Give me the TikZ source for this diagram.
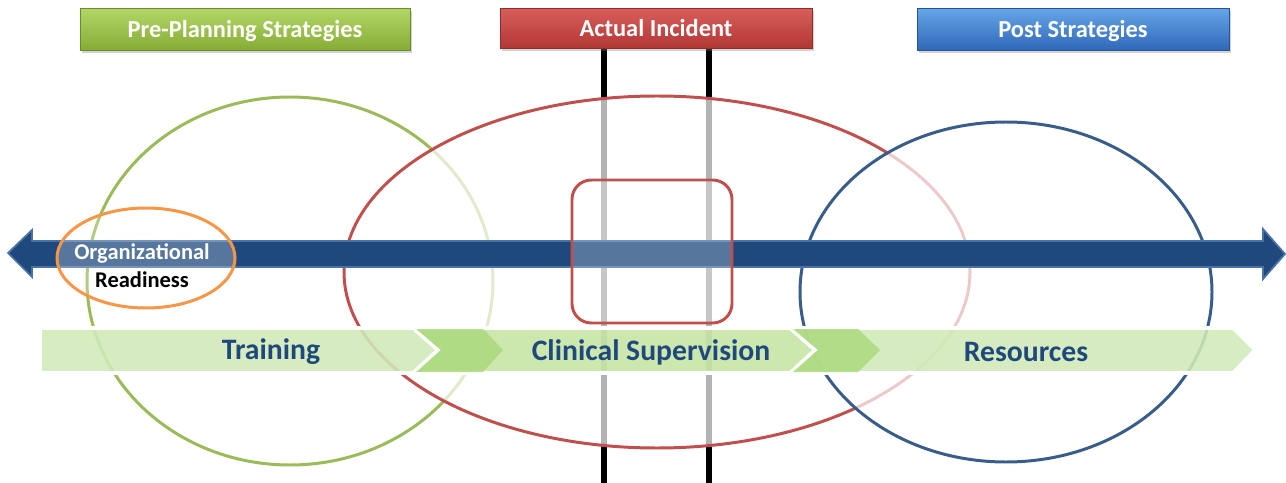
\documentclass[tikz,border=0pt]{standalone}
\usepackage{fontspec}
\setmainfont{Carlito}
\usetikzlibrary{shadows}
\definecolor{ringgreen}{HTML}{9BBB59}
\definecolor{ringred}{HTML}{C0504D}
\definecolor{ringblue}{HTML}{385D8A}
\definecolor{ringorange}{HTML}{F79646}
\definecolor{axisblue}{HTML}{1F497D}
\definecolor{axisedge}{HTML}{4A72A6}
\definecolor{chevlight}{HTML}{D0EAB8}
\definecolor{chevmid}{HTML}{C5E5A4}
\definecolor{chevdark}{HTML}{ACDA7E}
\definecolor{hdrgreentop}{HTML}{B3D767}
\definecolor{hdrgreenbot}{HTML}{86AC36}
\definecolor{hdrredtop}{HTML}{D85E5B}
\definecolor{hdrredbot}{HTML}{B33835}
\definecolor{hdrbluetop}{HTML}{66A6E8}
\definecolor{hdrbluebot}{HTML}{3168BA}
\tikzset{
  stratbox/.style 2 args={draw=#2!80!black, line width=0.5pt, top color=#1, bottom color=#2,
    text=white, font=\fontsize{13.9}{16}\selectfont\bfseries, inner sep=0pt,
    text height=12.8pt, text depth=2.8pt,
    drop shadow={opacity=0.35, shadow xshift=1pt, shadow yshift=-1.5pt}},
  ring/.style={draw=#1, line width=1.7pt, fill=white, fill opacity=0.7},
  chev/.style={fill=#1, fill opacity=0.88, draw=white, line width=2pt, line join=miter},
  chevtext/.style={text=axisblue, font=\fontsize{16.9}{20}\selectfont\bfseries},
}
\begin{document}
\begin{tikzpicture}[x=0.02cm, y=-0.02cm]
  \useasboundingbox (0,0) rectangle (1286,483);

  % Incident window (lines)
  \coordinate (wl top) at (604,48);  \coordinate (wl bot) at (604,483);
  \coordinate (wr top) at (709,48);  \coordinate (wr bot) at (709,483);
  \draw[line width=3.4pt] (wl top) -- (wl bot);
  \draw[line width=3.4pt] (wr top) -- (wr bot);

  % Phases
  \filldraw[ring=ringgreen] (290,281) ellipse [x radius=203, y radius=184];
  \filldraw[ring=ringred]   (657,272) ellipse [x radius=313, y radius=176];
  \filldraw[ring=ringblue]  (1006,292) ellipse [x radius=206, y radius=170];

  % Time axis
  \filldraw[fill=axisblue, draw=axisedge, line width=1pt, line join=miter]
    (8,253) -- (32,230) -- (32,241) -- (1263,241) -- (1263,229) -- (1285,254)
    -- (1263,279) -- (1263,267) -- (32,267) -- (32,277) -- cycle;

  \filldraw[draw=ringorange, line width=1.7pt, fill=white, fill opacity=0.25]
    (146,258) ellipse [x radius=89, y radius=50];
  \filldraw[draw=ringred, line width=1.7pt, fill=white, fill opacity=0.25, rounded corners=11pt]
    (572,180) rectangle (732,323);

  % Chevron process
  \filldraw[chev=chevlight] (40,328) -- (413,328) -- (438,350) -- (413,373) -- (40,373) -- cycle;
  \filldraw[chev=chevmid] (413,328) -- (790,328) -- (815,350) -- (790,373) -- (413,373) -- (438,350) -- cycle;
  \filldraw[chev=chevlight] (790,328) -- (1233,328) -- (1255,350) -- (1233,373) -- (790,373) -- (815,350) -- cycle;
  \fill[chevdark, fill opacity=0.85] (416,329) -- (483,329) -- (503,350) -- (483,372) -- (416,372) -- (441,350) -- cycle;
  \fill[chevdark, fill opacity=0.85] (793,329) -- (858,329) -- (880,350) -- (858,372) -- (793,372) -- (818,350) -- cycle;

  \node[chevtext] (training) at (271,352) {Training};
  \node[chevtext] (supervision) at (651,352) {Clinical Supervision};
  \node[chevtext] (resources) at (1026,352) {Resources};

  \node[text=white, font=\fontsize{12.8}{15}\selectfont\bfseries] (org) at (142,253) {Organizational};
  \node[font=\fontsize{12.8}{15}\selectfont\bfseries] (ready) at (142,280) {Readiness};

  % Headers
  \node[stratbox={hdrgreentop}{hdrgreenbot}, minimum width=6.6cm, minimum height=0.84cm]
    (pre) at (245,29) {Pre-Planning Strategies};
  \node[stratbox={hdrredtop}{hdrredbot}, minimum width=6.24cm, minimum height=0.8cm]
    (incident) at (656,28) {Actual Incident};
  \node[stratbox={hdrbluetop}{hdrbluebot}, minimum width=6.24cm, minimum height=0.84cm]
    (post) at (1073,29) {Post Strategies};
\end{tikzpicture}
\end{document}
